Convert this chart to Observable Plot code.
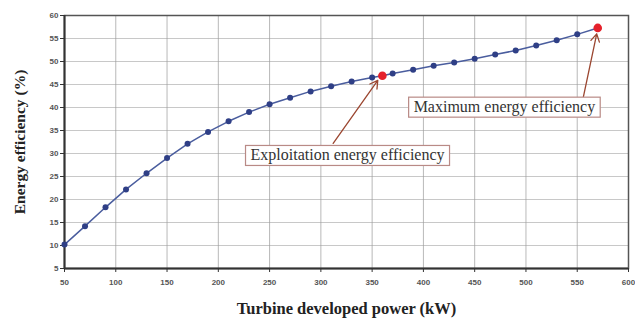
<!DOCTYPE html>
<html>
<head>
<meta charset="utf-8">
<script src="https://cdn.jsdelivr.net/npm/d3@7"></script>
<script src="https://cdn.jsdelivr.net/npm/@observablehq/plot@0.6"></script>
<style>
  html, body { margin: 0; padding: 0; background: #fff; }
</style>
</head>
<body>
<div id="chart"></div>
<script>
// ---- data ----
const powerKW = [50,70,90,110,130,150,170,190,210,230,250,270,290,310,330,350,370,390,410,430,450,470,490,510,530,550];
const efficiency = [10.2,14.2,18.3,22.2,25.7,29.0,32.1,34.7,37.0,39.0,40.7,42.1,43.5,44.6,45.65,46.5,47.4,48.2,49.1,49.8,50.6,51.5,52.4,53.5,54.6,55.9];
const highlightPower = [360, 570];
const highlightEff = [46.9, 57.3];
const annotationLabels = ["Exploitation energy efficiency", "Maximum energy efficiency"];
const annotationBoxX = [326, 479];
const annotationBoxY = [29.6, 40.1];
const arrowFromX = [312, 556];
const arrowFromY = [32.2, 42.3];
const arrowToX = [355.5, 569];
const arrowToY = [45.9, 56.0];
const xTicks = [50,100,150,200,250,300,350,400,450,500,550,600];
const yTicks = [5,10,15,20,25,30,35,40,45,50,55,60];
const xLabel = "Turbine developed power (kW)";
const yLabel = "Energy efficiency (%)";

const points = powerKW.map((x, i) => ({x, y: efficiency[i]}));
const highlights = highlightPower.map((x, i) => ({x, y: highlightEff[i]}));
const linePts = [...points, ...highlights].sort((a, b) => a.x - b.x);
const annos = annotationLabels.map((t, i) => ({
  t, x: annotationBoxX[i], y: annotationBoxY[i],
  x1: arrowFromX[i], y1: arrowFromY[i], x2: arrowToX[i], y2: arrowToY[i]
}));

const chart = Plot.plot({
  width: 635,
  height: 321,
  marginLeft: 64,
  marginRight: 7,
  marginTop: 15,
  marginBottom: 53,
  style: {background: "#fff", fontFamily: "Liberation Sans, Arial, sans-serif"},
  x: {domain: [50, 600]},
  y: {domain: [5, 60]},
  marks: [
    Plot.gridX(xTicks, {stroke: "#9a9a9a", strokeOpacity: 0.7}),
    Plot.gridY(yTicks, {stroke: "#9a9a9a", strokeOpacity: 0.55}),
    Plot.frame({stroke: "#555", strokeWidth: 1.5}),
    Plot.axisX({ticks: xTicks, tickSize: 4, tickPadding: 7, label: null, fontSize: 8, fontWeight: "bold", fill: "#555", stroke: "#333"}),
    Plot.axisY({ticks: yTicks, tickSize: 4, tickPadding: 2, label: null, fontSize: 8, fontWeight: "bold", fill: "#555", stroke: "#333"}),
    Plot.ruleX([50], {stroke: "#333", strokeWidth: 2}),
    Plot.ruleY([5], {stroke: "#333", strokeWidth: 2}),
    Plot.line(linePts, {x: "x", y: "y", stroke: "#4a5d9e", strokeWidth: 1.5}),
    Plot.dot(points, {x: "x", y: "y", r: 3, fill: "#2f3f86", stroke: "none"}),
    Plot.dot(highlights, {x: "x", y: "y", r: 4.3, fill: "#e5212b", stroke: "none"}),
    Plot.arrow(annos, {x1: "x1", y1: "y1", x2: "x2", y2: "y2", stroke: "#9b4630", strokeWidth: 1.3, headLength: 10, bend: 0}),
    Plot.text(annos, {x: "x", y: "y", text: "t", className: "anno", fontFamily: "Liberation Serif, Times New Roman, serif", fontSize: 16, fill: "#333"}),
    Plot.text([yLabel], {frameAnchor: "left", textAnchor: "middle", dx: -44, rotate: -90, fontFamily: "Liberation Serif, Times New Roman, serif", fontSize: 15.5, fontWeight: "bold", fill: "#222"}),
    Plot.text([xLabel], {frameAnchor: "bottom", dy: 45, fontFamily: "Liberation Serif, Times New Roman, serif", fontSize: 16.5, fontWeight: "bold", fill: "#222"})
  ]
});
document.getElementById("chart").appendChild(chart);

// boxes around annotation texts
d3.select(chart).selectAll("g.anno text").each(function() {
  const b = this.getBBox();
  const padX = 5, padY = 1;
  d3.select(this.parentNode).insert("rect", () => this)
    .attr("transform", this.getAttribute("transform"))
    .attr("x", b.x - padX).attr("y", b.y - padY)
    .attr("width", b.width + 2 * padX).attr("height", b.height + 2 * padY)
    .attr("fill", "#fff").attr("stroke", "#b98a86").attr("stroke-width", 1.2);
});
</script>
</body>
</html>
